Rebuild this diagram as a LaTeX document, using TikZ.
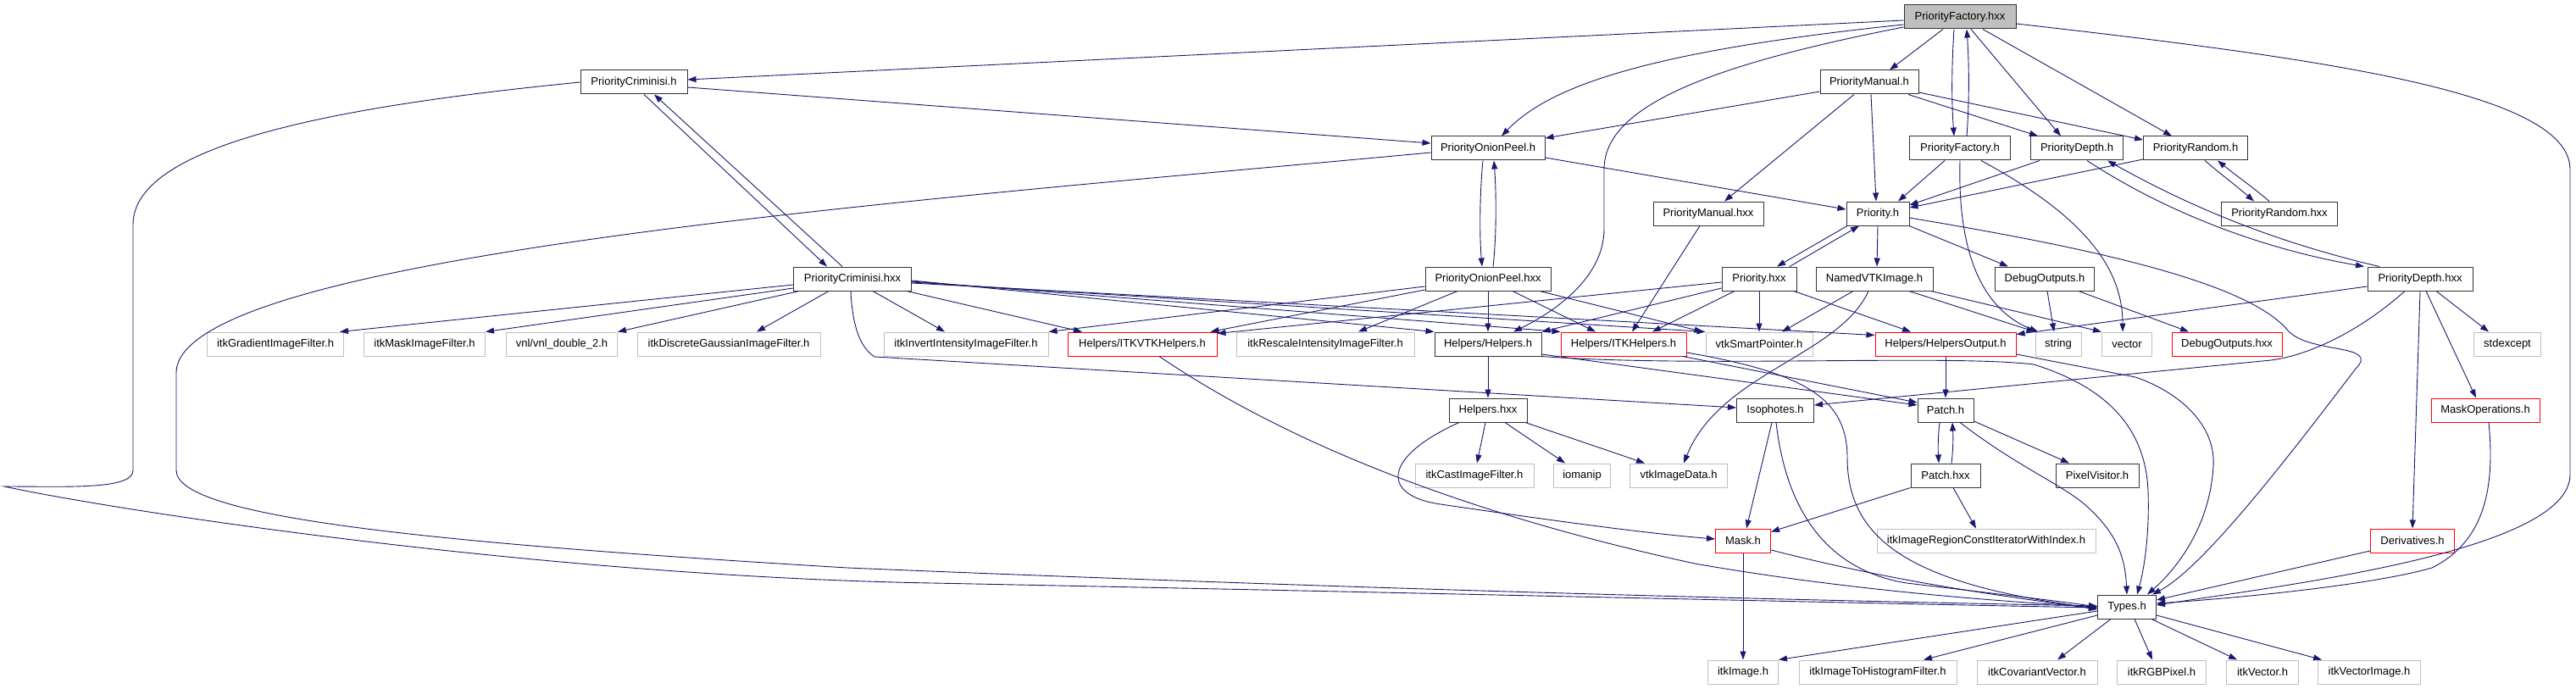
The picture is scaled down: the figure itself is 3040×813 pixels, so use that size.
\documentclass[tikz,border=0pt]{standalone}
\usepackage{fontspec}
\setmainfont{Liberation Sans}
\usetikzlibrary{arrows.meta}
\definecolor{edgeblue}{HTML}{191970}
\definecolor{extgray}{HTML}{BFBFBF}
\definecolor{rootgray}{HTML}{BFBFBF}
\begin{document}
\begin{tikzpicture}[x=1pt,y=-1pt,
  nbox/.style={draw=black!80, line width=1pt, fill=white, minimum height=28pt, inner sep=0pt, font=\fontsize{13}{15}\selectfont},
  next/.style={nbox, draw=extgray},
  nred/.style={nbox, draw=red},
  nroot/.style={nbox, fill=rootgray},
  dep/.style={draw=edgeblue, line width=0.9pt, -{Triangle[length=10pt,width=7pt]}}]
\fill[white] (0,0) rectangle (3040,813);
\useasboundingbox (0,0) rectangle (3040,813);
% nodes
\node[nroot, minimum width=132pt] (pfhxx) at (2313,20) {PriorityFactory.hxx};
\node[nbox, minimum width=126pt] (pch) at (748,97) {PriorityCriminisi.h};
\node[nbox, minimum width=116pt] (pmh) at (2206,97) {PriorityManual.h};
\node[nbox, minimum width=134pt] (poph) at (1756,175) {PriorityOnionPeel.h};
\node[nbox, minimum width=119pt] (pfh) at (2313,175) {PriorityFactory.h};
\node[nbox, minimum width=109pt] (pdh) at (2451,175) {PriorityDepth.h};
\node[nbox, minimum width=123pt] (prh) at (2591,175) {PriorityRandom.h};
\node[nbox, minimum width=130pt] (pmhxx) at (2016,252) {PriorityManual.hxx};
\node[nbox, minimum width=74pt] (prio) at (2216,252) {Priority.h};
\node[nbox, minimum width=137pt] (prhxx) at (2690,252) {PriorityRandom.hxx};
\node[nbox, minimum width=139pt] (pchxx) at (1006,329) {PriorityCriminisi.hxx};
\node[nbox, minimum width=148pt] (pophxx) at (1756,329) {PriorityOnionPeel.hxx};
\node[nbox, minimum width=88pt] (priohxx) at (2076,329) {Priority.hxx};
\node[nbox, minimum width=138pt] (nvtk) at (2212,329) {NamedVTKImage.h};
\node[nbox, minimum width=117pt] (dbgh) at (2413,329) {DebugOutputs.h};
\node[nbox, minimum width=124pt] (pdhxx) at (2856,329) {PriorityDepth.hxx};
\node[next, minimum width=161pt] (grad) at (325,406) {itkGradientImageFilter.h};
\node[next, minimum width=143pt] (maskf) at (501,406) {itkMaskImageFilter.h};
\node[next, minimum width=131pt] (vnl) at (663,406) {vnl/vnl\_double\_2.h};
\node[next, minimum width=216pt] (dgauss) at (860,406) {itkDiscreteGaussianImageFilter.h};
\node[next, minimum width=194pt] (invint) at (1140,406) {itkInvertIntensityImageFilter.h};
\node[nred, minimum width=176pt] (itkvtk) at (1348,406) {Helpers/ITKVTKHelpers.h};
\node[next, minimum width=210pt] (rescale) at (1564,406) {itkRescaleIntensityImageFilter.h};
\node[nbox, minimum width=126pt] (helpers) at (1756,406) {Helpers/Helpers.h};
\node[nred, minimum width=148pt] (itkhelp) at (1916,406) {Helpers/ITKHelpers.h};
\node[next, minimum width=126pt] (vtksp) at (2076,406) {vtkSmartPointer.h};
\node[nred, minimum width=166pt] (hout) at (2296,406) {Helpers/HelpersOutput.h};
\node[next, minimum width=54pt] (string) at (2429,406) {string};
\node[next, minimum width=59pt] (vector) at (2510,406) {vector};
\node[nred, minimum width=130pt] (dbghxx) at (2628,406) {DebugOutputs.hxx};
\node[next, minimum width=79pt] (stdexc) at (2959,406) {stdexcept};
\node[nbox, minimum width=92pt] (helphxx) at (1756,484) {Helpers.hxx};
\node[nbox, minimum width=91pt] (iso) at (2095,484) {Isophotes.h};
\node[nbox, minimum width=66pt] (patch) at (2296,484) {Patch.h};
\node[nred, minimum width=128pt] (maskops) at (2933,484) {MaskOperations.h};
\node[next, minimum width=140pt] (cast) at (1740,561) {itkCastImageFilter.h};
\node[next, minimum width=67pt] (iomanip) at (1867,561) {iomanip};
\node[next, minimum width=115pt] (vtkid) at (1981,561) {vtkImageData.h};
\node[nbox, minimum width=82pt] (patchhxx) at (2296,561) {Patch.hxx};
\node[nbox, minimum width=98pt] (pixvis) at (2475,561) {PixelVisitor.h};
\node[nred, minimum width=65pt] (mask) at (2057,638) {Mask.h};
\node[next, minimum width=258pt] (iricwi) at (2344,638) {itkImageRegionConstIteratorWithIndex.h};
\node[nred, minimum width=99pt] (deriv) at (2847,638) {Derivatives.h};
\node[nbox, minimum width=69pt] (types) at (2510,716) {Types.h};
\node[next, minimum width=83pt] (itkimg) at (2057,793) {itkImage.h};
\node[next, minimum width=186pt] (ithf) at (2216,793) {itkImageToHistogramFilter.h};
\node[next, minimum width=142pt] (icv) at (2404,793) {itkCovariantVector.h};
\node[next, minimum width=105pt] (rgb) at (2551,793) {itkRGBPixel.h};
\node[next, minimum width=85pt] (ivec) at (2670,793) {itkVector.h};
\node[next, minimum width=121pt] (ivimg) at (2796,793) {itkVectorImage.h};
% edges from PriorityFactory.hxx
\draw[dep] ([yshift=-4pt]pfhxx.west) -- ([yshift=3pt]pch.east);
\draw[dep] ([yshift=-9pt]pfhxx.west) .. controls (1950,60) and (1830,100) .. ([xshift=16pt]poph.north);
\draw[dep] ([yshift=-12pt]pfhxx.west) .. controls (2000,80) and (1893,130) .. (1893,200) -- (1893,270) .. controls (1893,330) and (1830,370) .. ([xshift=30pt]helpers.north);
\draw[dep] ([xshift=-20pt]pfhxx.south) -- ([xshift=24pt]pmh.north);
\draw[dep] ([xshift=-7pt]pfhxx.south) .. controls (2303,80) and (2303,120) .. ([xshift=-7pt]pfh.north);
\draw[dep] ([xshift=8pt]pfh.north) .. controls (2324,120) and (2324,80) .. ([xshift=8pt]pfhxx.south);
\draw[dep] ([xshift=13pt]pfhxx.south) -- ([xshift=-19pt]pdh.north);
\draw[dep] ([xshift=27pt]pfhxx.south) -- ([xshift=-28pt]prh.north);
\draw[dep] ([yshift=-8pt]pfhxx.east) .. controls (2750,70) and (3033,110) .. (3033,200) -- (3033,560) .. controls (3033,650) and (2700,690) .. ([yshift=2pt]types.east);
% PriorityCriminisi.h
\draw[dep] ([xshift=12pt]pch.south) -- ([xshift=-30pt]pchxx.north);
\draw[dep] ([xshift=-12pt]pchxx.north) -- ([xshift=24pt]pch.south);
\draw[dep] ([yshift=-6pt]pch.east) -- ([yshift=6pt]poph.west);
\draw[dep] (pch.west) .. controls (400,125) and (157,170) .. (157,265) -- (157,555) .. controls (157,578) and (80,574) .. (5,574) .. controls (150,605) and (650,680) .. (1100,688) .. controls (1700,700) and (2200,712) .. ([yshift=-1pt]types.west);
% PriorityOnionPeel.h
\draw[dep] ([yshift=-5pt]poph.west) .. controls (1100,235) and (208,300) .. (208,440) -- (208,555) .. controls (208,610) and (500,640) .. (1000,670) .. controls (1600,695) and (2100,708) .. ([yshift=1pt]types.west);
\draw[dep] ([yshift=-11pt]poph.east) -- ([yshift=5pt]prio.west);
\draw[dep] ([xshift=-6pt]poph.south) .. controls (1746,230) and (1746,280) .. ([xshift=-7pt]pophxx.north);
\draw[dep] ([xshift=6pt]pophxx.north) .. controls (1766,280) and (1766,230) .. ([xshift=7pt]poph.south);
% PriorityManual.h
\draw[dep] ([yshift=-11pt]pmh.west) -- ([yshift=12pt]poph.east);
\draw[dep] ([xshift=-18pt]pmh.south) -- ([xshift=19pt]pmhxx.north);
\draw[dep] ([xshift=2pt]pmh.south) -- ([xshift=-2pt]prio.north);
\draw[dep] ([xshift=46pt]pmh.south) -- ([xshift=-46pt]pdh.north);
\draw[dep] ([yshift=-12pt]pmh.east) -- ([yshift=10pt]prh.west);
\draw[dep] ([xshift=-10pt]pmhxx.south) -- ([xshift=10pt]itkhelp.north);
% PriorityFactory.h
\draw[dep] ([xshift=-18pt]pfh.south) -- ([xshift=24pt]prio.north);
\draw[dep] (pfh.south) .. controls (2310,300) and (2340,365) .. ([xshift=-24pt]string.north);
\draw[dep] ([xshift=25pt]pfh.south) .. controls (2450,250) and (2505,310) .. ([xshift=-5pt]vector.north);
% PriorityDepth.h
\draw[dep] ([xshift=-44pt]pdh.south) -- ([yshift=10pt]prio.east);
\draw[dep] ([xshift=12pt]pdh.south) .. controls (2540,240) and (2650,290) .. ([xshift=-66pt]pdhxx.north);
\draw[dep] ([xshift=-48pt]pdhxx.north) .. controls (2660,280) and (2560,230) .. ([xshift=36pt]pdh.south);
% PriorityRandom.h
\draw[dep] ([yshift=-13pt]prh.west) -- ([yshift=7pt]prio.east);
\draw[dep] ([xshift=11pt]prh.south) .. controls (2620,205) and (2640,220) .. ([xshift=-30pt]prhxx.north);
\draw[dep] ([xshift=-12pt]prhxx.north) .. controls (2660,222) and (2640,208) .. ([xshift=26pt]prh.south);
% Priority.h
\draw[dep] ([xshift=-36pt]prio.south) -- ([xshift=21pt]priohxx.north);
\draw[dep] ([xshift=36pt]priohxx.north) -- ([xshift=-22pt]prio.south);
\draw[dep] (prio.south) -- ([xshift=3pt]nvtk.north);
\draw[dep] ([xshift=37pt]prio.south) -- ([xshift=-43pt]dbgh.north);
\draw[dep] ([yshift=-5pt]prio.east) .. controls (2450,290) and (2650,330) .. (2700,390) .. controls (2725,418) and (2810,405) .. (2780,435) .. controls (2700,540) and (2600,670) .. ([xshift=30pt]types.north);
% Priority.hxx
\draw[dep] (priohxx.south) -- (vtksp.north);
\draw[dep] ([xshift=41pt]priohxx.south) -- ([xshift=-41pt]hout.north);
\draw[dep] ([yshift=-11pt]priohxx.west) -- (helpers.north east);
\draw[dep] ([xshift=-29pt]priohxx.south) -- ([xshift=34pt]itkhelp.north);
\draw[dep] ([yshift=-4pt]priohxx.west) -- ([yshift=-2pt]itkvtk.north east);
% PriorityCriminisi.hxx
\draw[dep] ([yshift=-7pt]pchxx.west) -- ([xshift=-5pt]grad.north east);
\draw[dep] ([yshift=-11pt]pchxx.west) -- (maskf.north east);
\draw[dep] ([xshift=-63pt]pchxx.south) -- (vnl.north east);
\draw[dep] ([xshift=-28pt]pchxx.south) -- ([xshift=33pt]dgauss.north);
\draw[dep] ([xshift=24pt]pchxx.south) -- ([xshift=-25pt]invint.north);
\draw[dep] ([xshift=64pt]pchxx.south) -- ([xshift=-71pt]itkvtk.north);
\draw[dep] ([yshift=-2pt]pchxx.east) -- (helpers.north west);
\draw[dep] ([yshift=-3pt]pchxx.east) -- (itkhelp.north west);
\draw[dep] ([yshift=-4pt]pchxx.east) -- (vtksp.north west);
\draw[dep] ([yshift=-5pt]pchxx.east) -- ([yshift=-4pt]hout.north west);
\draw[dep] ([xshift=-2pt]pchxx.south) .. controls (1006,385) and (1015,410) .. (1032,421) -- ([yshift=3pt]iso.west);
% PriorityOnionPeel.hxx
\draw[dep] ([yshift=-9pt]pophxx.west) -- (invint.north east);
\draw[dep] ([yshift=-13pt]pophxx.west) -- ([xshift=-8pt]itkvtk.north east);
\draw[dep] ([xshift=-36pt]pophxx.south) -- ([xshift=39pt]rescale.north);
\draw[dep] (pophxx.south) -- (helpers.north);
\draw[dep] ([xshift=29pt]pophxx.south) -- ([xshift=-33pt]itkhelp.north);
\draw[dep] ([xshift=61pt]pophxx.south) -- ([xshift=-3pt]vtksp.north west);
% NamedVTKImage.h
\draw[dep] ([xshift=-25pt]nvtk.south) -- ([xshift=27pt]vtksp.north);
\draw[dep] ([xshift=-7pt]nvtk.south) .. controls (2170,420) and (2030,440) .. ([xshift=6pt]vtkid.north);
\draw[dep] ([xshift=41pt]nvtk.south) -- (string.north west);
\draw[dep] ([xshift=67pt]nvtk.south) -- (vector.north west);
% DebugOutputs.h
\draw[dep] ([xshift=3pt]dbgh.south) -- ([xshift=-5pt]string.north);
\draw[dep] ([xshift=40pt]dbgh.south) -- ([xshift=-45pt]dbghxx.north);
% PriorityDepth.hxx
\draw[dep] ([yshift=-9pt]pdhxx.west) -- ([yshift=-3pt]hout.north east);
\draw[dep] ([xshift=-18pt]pdhxx.south) .. controls (2780,395) and (2720,420) .. (2680,425) -- ([yshift=6pt]iso.east);
\draw[dep] (pdhxx.south) -- (deriv.north);
\draw[dep] ([xshift=7pt]pdhxx.south) -- ([xshift=-11pt]maskops.north);
\draw[dep] ([xshift=19pt]pdhxx.south) -- ([xshift=-22pt]stdexc.north);
% Helpers
\draw[dep] (helpers.south) -- (helphxx.north);
\draw[dep] ([yshift=-12pt]helpers.east) -- ([yshift=6pt]patch.west);
\draw[dep] ([xshift=70pt]itkhelp.south) -- ([yshift=9pt]patch.west);
\draw[dep] (helpers.south east) .. controls (2000,434) and (2300,418) .. (2400,430) .. controls (2480,455) and (2532,500) .. (2535,580) .. controls (2537,640) and (2528,680) .. ([xshift=12pt]types.north);
\draw[dep] ([yshift=-10pt]itkhelp.east) .. controls (2130,440) and (2180,470) .. (2180,540) .. controls (2180,640) and (2260,690) .. ([yshift=-2pt]types.west);
\draw[dep] (hout.south) -- (patch.north);
\draw[dep] ([yshift=-12pt]hout.east) -- (2520,445) .. controls (2570,462) and (2615,500) .. (2612,550) .. controls (2608,620) and (2570,670) .. ([xshift=24pt]types.north);
% Isophotes
\draw[dep] ([xshift=-4pt]iso.south) -- ([xshift=4pt]mask.north);
\draw[dep] ([xshift=1pt]iso.south) .. controls (2110,620) and (2170,675) .. (2250,688) .. controls (2350,700) and (2420,708) .. (types.west);
% Patch
\draw[dep] ([xshift=-7pt]patch.south) .. controls (2287,515) and (2287,530) .. ([xshift=-8pt]patchhxx.north);
\draw[dep] ([xshift=7pt]patchhxx.north) .. controls (2305,530) and (2305,515) .. ([xshift=8pt]patch.south);
\draw[dep] ([yshift=-13pt]patch.east) -- ([xshift=-33pt]pixvis.north);
\draw[dep] ([xshift=17pt]patch.south) .. controls (2380,550) and (2430,570) .. (2460,595) .. controls (2500,630) and (2508,660) .. (types.north);
\draw[dep] (patchhxx.south west) -- ([yshift=-4pt]mask.north east);
\draw[dep] ([xshift=9pt]patchhxx.south) -- ([xshift=-12pt]iricwi.north);
% Helpers.hxx
\draw[dep] ([xshift=-3pt]helphxx.south) -- ([xshift=3pt]cast.north);
\draw[dep] ([xshift=20pt]helphxx.south) -- ([xshift=-20pt]iomanip.north);
\draw[dep] ([xshift=44pt]helphxx.south) -- ([xshift=-40pt]vtkid.north);
\draw[dep] ([xshift=-34pt]helphxx.south) .. controls (1630,540) and (1630,585) .. (1700,595) .. controls (1850,617) and (1950,630) .. ([yshift=2pt]mask.west);
% ITKVTKHelpers
\draw[dep] ([xshift=20pt]itkvtk.south) .. controls (1500,510) and (1700,600) .. (2000,665) .. controls (2200,700) and (2400,712) .. (types.west);
% Mask
\draw[dep] (mask.south) -- (itkimg.north);
\draw[dep] ([yshift=-11pt]mask.east) .. controls (2250,690) and (2380,705) .. ([yshift=-3pt]types.west);
% Derivatives, MaskOperations
\draw[dep] ([yshift=-12pt]deriv.west) -- ([yshift=8pt]types.east);
\draw[dep] ([xshift=4pt]maskops.south) .. controls (2945,580) and (2930,640) .. (2870,670) .. controls (2800,690) and (2650,705) .. ([yshift=4pt]types.east);
% Types
\draw[dep] ([yshift=-5pt]types.west) -- (itkimg.north east);
\draw[dep] ([yshift=-10pt]types.west) -- ([xshift=54pt]ithf.north);
\draw[dep] ([xshift=-19pt]types.south) -- ([xshift=24pt]icv.north);
\draw[dep] ([xshift=9pt]types.south) -- ([xshift=-11pt]rgb.north);
\draw[dep] ([xshift=29pt]types.south) -- ([xshift=-30pt]ivec.north);
\draw[dep] ([yshift=-10pt]types.east) -- ([xshift=-56pt]ivimg.north);
\end{tikzpicture}
\end{document}
